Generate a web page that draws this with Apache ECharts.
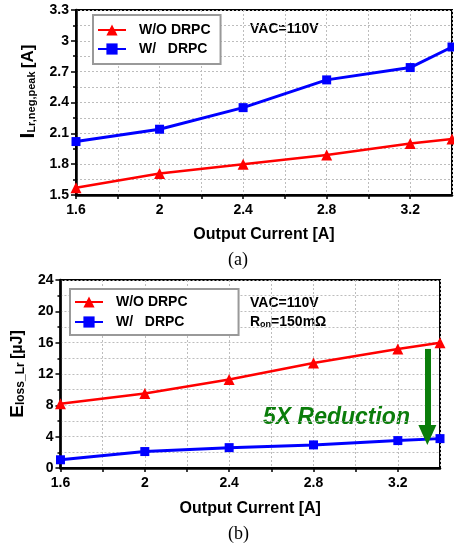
<!DOCTYPE html>
<html>
<head>
<meta charset="utf-8">
<script src="https://cdn.jsdelivr.net/npm/echarts@6/dist/echarts.min.js"></script>
<style>
  html, body { margin: 0; padding: 0; background: #fff; }
  #chart { width: 454px; height: 551px; }
</style>
</head>
<body>
<div id="chart"></div>
<script>
// output current [A]
const current = [1.6, 2.0, 2.4, 2.8, 3.2, 3.4]
// (a) negative peak current of Lr [A]
const peakWithout = [1.57, 1.71, 1.80, 1.89, 2.00, 2.045]
const peakWith = [2.02, 2.14, 2.35, 2.62, 2.74, 2.94]
// (b) Lr loss energy [uJ]
const lossWithout = [8.2, 9.5, 11.3, 13.4, 15.2, 16.0]
const lossWith = [1.05, 2.1, 2.6, 2.95, 3.5, 3.75]

const nameWo = 'W/O DRPC'
const nameW = 'W/   DRPC'
const font = 'Liberation Sans, Arial, sans-serif'

const pair = (xs, ys) => xs.map((x, i) => [x, ys[i]])

const dotted = { show: true, lineStyle: { color: '#bdbdbd', width: 1, type: [2, 2] } }

function xAxisOf(gridIndex) {
  return {
    type: 'value', gridIndex, min: 1.6, max: 3.4, interval: 0.2,
    name: 'Output Current [A]', nameLocation: 'middle', nameGap: gridIndex ? 33 : 32,
    nameTextStyle: { fontFamily: font, fontWeight: 'bold', fontSize: 16, color: '#000' },
    axisLine: { lineStyle: { color: '#000', width: 2.5 } },
    axisTick: { length: 4, lineStyle: { color: '#000', width: 1.5 } },
    axisLabel: {
      fontFamily: font, fontWeight: 'bold', fontSize: 14, color: '#000', margin: 8,
      showMaxLabel: false,
      formatter: v => Math.round((v - 1.6) / 0.2) % 2 === 0 && v < 3.35 ? String(+v.toFixed(1)) : ''
    },
    splitLine: dotted
  }
}

function yAxisOf(gridIndex, min, max, interval, name, rich, gap, shift) {
  return {
    type: 'value', gridIndex, min, max, interval,
    name, nameLocation: 'middle', nameGap: gap, nameRotate: 90,
    nameTextStyle: { rich, padding: [0, 0, 0, shift] },
    axisLine: { show: true, lineStyle: { color: '#000', width: 2.5 } },
    axisTick: { show: true, length: 5, lineStyle: { color: '#000', width: 1.5 } },
    minorTick: { show: true, splitNumber: 2, length: 3, lineStyle: { color: '#000', width: 1.5 } },
    minorSplitLine: dotted,
    axisLabel: { fontFamily: font, fontWeight: 'bold', fontSize: 14, color: '#000', margin: 7 },
    splitLine: dotted
  }
}

function lineSeries(name, data, idx, red) {
  return {
    type: 'line', name, xAxisIndex: idx, yAxisIndex: idx,
    data,
    symbol: red ? 'triangle' : 'rect',
    symbolSize: red ? 11 : 9,
    lineStyle: { width: red ? 2.5 : 3, color: red ? '#ff0000' : '#0000ff' },
    itemStyle: { color: red ? '#ff0000' : '#0000ff' },
    z: red ? 3 : 2
  }
}

function legendOf(left, top, right, names) {
  return {
    orient: 'vertical', left, top, data: names,
    itemWidth: 28, itemHeight: 14, itemGap: 5,
    padding: [8, right, 8, 4],
    backgroundColor: '#fff', borderColor: '#999', borderWidth: 2, borderRadius: 0,
    textStyle: { fontFamily: font, fontWeight: 'bold', fontSize: 14, color: '#000', padding: [0, 0, 0, 8] }
  }
}

const chart = echarts.init(document.getElementById('chart'))
const bold = { fontFamily: font, fontWeight: 'bold', color: '#000' }

chart.setOption({
  animation: false,
  grid: [
    { left: 76, right: 2, top: 10, bottom: 356, show: true, borderColor: '#000', borderWidth: 2 },
    { left: 58, right: 14, top: 280, bottom: 83, show: true, borderColor: '#000', borderWidth: 2 }
  ],
  xAxis: [xAxisOf(0), xAxisOf(1)],
  yAxis: [
    yAxisOf(0, 1.5, 3.3, 0.3, '{b|I}{s|Lr,neg,peak} {u|[A]}', {
      b: { ...bold, fontSize: 21 },
      s: { ...bold, fontSize: 11, padding: [8, 0, 0, 0] },
      u: { ...bold, fontSize: 17 }
    }, 36, 22),
    yAxisOf(1, 0, 24, 4, '{b|E}{s|loss_Lr} {u|[µJ]}', {
      b: { ...bold, fontSize: 19 },
      s: { ...bold, fontSize: 12, padding: [7, 0, 0, 0] },
      u: { ...bold, fontSize: 16 }
    }, 33, 0)
  ],
  legend: [
    legendOf(93, 15, 10, [nameWo, nameW]),
    { ...legendOf(70, 289, 51, [nameWo, nameW]), padding: [6, 51, 6, 4], itemGap: 6 }
  ],
  series: [
    lineSeries(nameWo, pair(current, peakWithout), 0, true),
    lineSeries(nameW, pair(current, peakWith), 0, false),
    {
      ...lineSeries(nameWo, pair(current, lossWithout), 1, true),
      markLine: {
        silent: true,
        symbol: ['none', 'triangle'],
        symbolSize: [18, 20],
        label: { show: false },
        lineStyle: { color: '#0a7d0a', width: 6, type: 'solid' },
        data: [[{ coord: [3.34, 15.2] }, { coord: [3.34, 4.2] }]]
      }
    },
    lineSeries(nameW, pair(current, lossWith), 1, false)
  ],
  graphic: [
    { type: 'text', left: 250, top: 22, style: { text: 'VAC=110V', font: 'bold 14px ' + font, fill: '#000' } },
    { type: 'text', left: 250, top: 296, style: { text: 'VAC=110V', font: 'bold 14px ' + font, fill: '#000' } },
    {
      type: 'text', left: 250, top: 315,
      style: {
        text: '{a|R}{s|on}{a|=150mΩ}',
        rich: { a: { font: 'bold 14px ' + font, fill: '#000' }, s: { font: 'bold 9px ' + font, fill: '#000', padding: [6, 0, 0, 0] } }
      }
    },
    { type: 'text', left: 263, top: 406, style: { text: '5X Reduction', font: 'italic bold 23px ' + font, fill: '#0a7d0a' } },
    { type: 'text', left: 228, top: 251, style: { text: '(a)', font: '18px Liberation Serif, Times New Roman, serif', fill: '#000' } },
    { type: 'text', left: 228, top: 525, style: { text: '(b)', font: '18px Liberation Serif, Times New Roman, serif', fill: '#000' } }
  ]
})
</script>
</body>
</html>
